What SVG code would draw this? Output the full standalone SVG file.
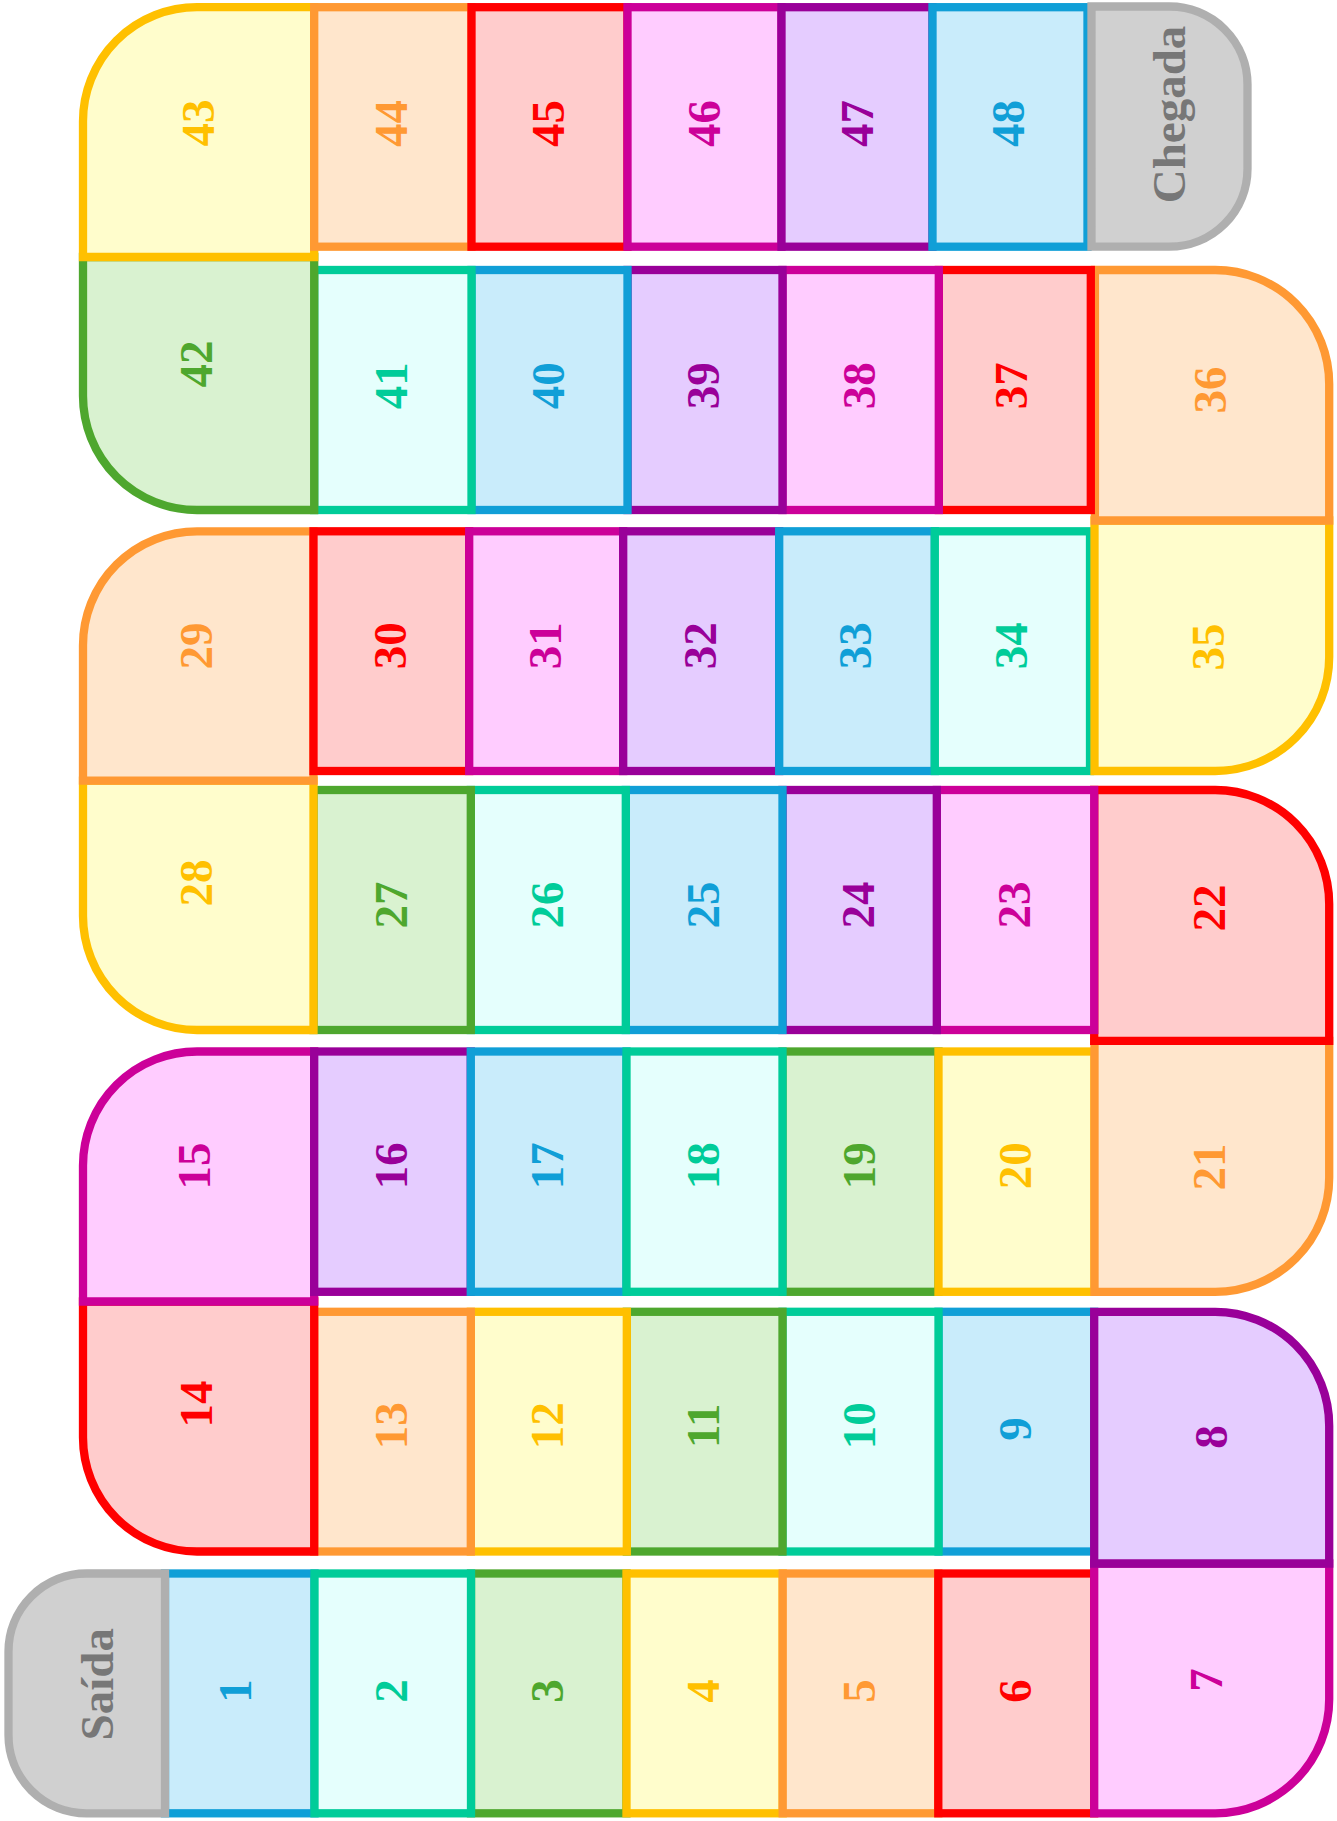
<svg xmlns="http://www.w3.org/2000/svg" width="1337" height="1821" viewBox="0 0 1337 1821">
<style>
rect, path { stroke-width: 8.3; stroke-linejoin: miter; }
text { font-family: "Liberation Serif", "Times New Roman", serif; font-weight: bold; font-size: 47px; text-anchor: middle; dominant-baseline: central; }
.bl rect, .bl path { fill: #c9ecfb; stroke: #109fd7; } .bl text { fill: #109fd7; }
.te rect, .te path { fill: #e5fffd; stroke: #00cc99; } .te text { fill: #00cc99; }
.gr rect, .gr path { fill: #d9f2d0; stroke: #4ea72e; } .gr text { fill: #4ea72e; }
.ye rect, .ye path { fill: #fffdcc; stroke: #ffc000; } .ye text { fill: #ffc000; }
.or rect, .or path { fill: #ffe6cc; stroke: #ff9933; } .or text { fill: #ff9933; }
.re rect, .re path { fill: #ffcccc; stroke: #ff0000; } .re text { fill: #ff0000; }
.ma rect, .ma path { fill: #ffccff; stroke: #cc0099; } .ma text { fill: #cc0099; }
.pu rect, .pu path { fill: #e5ccff; stroke: #990099; } .pu text { fill: #990099; }
.gy rect, .gy path { fill: #d0d0d0; stroke: #afafaf; } .gy text { fill: #777777; }
</style>
<g id="tiles">
<g id="t1" class="bl"><rect x="165" y="1573.5" width="149.5" height="239.8"/><text x="234.5" y="1691" transform="rotate(-90 234.5 1691)">1</text></g>
<g id="saida" class="gy"><path d="M86.5 1573.5 H165 V1813.3 H86.5 A78 78 0 0 1 8.5 1735.3 V1651.5 A78 78 0 0 1 86.5 1573.5 Z"/><text x="96.8" y="1684.2" transform="rotate(-90 96.8 1684.2)">Saída</text></g>
<g id="t3" class="gr"><rect x="471" y="1573.5" width="155.5" height="239.8"/><text x="546.8" y="1691" transform="rotate(-90 546.8 1691)">3</text></g>
<g id="t2" class="te"><rect x="314.5" y="1573.5" width="156.5" height="239.8"/><text x="391" y="1691" transform="rotate(-90 391 1691)">2</text></g>
<g id="t4" class="ye"><rect x="626.5" y="1573.5" width="156.2" height="239.8"/><text x="703" y="1691" transform="rotate(-90 703 1691)">4</text></g>
<g id="t5" class="or"><rect x="782.7" y="1573.5" width="155.6" height="239.8"/><text x="859" y="1691" transform="rotate(-90 859 1691)">5</text></g>
<g id="t6" class="re"><rect x="938.3" y="1573.5" width="155.9" height="239.8"/><text x="1015" y="1691" transform="rotate(-90 1015 1691)">6</text></g>
<g id="t7" class="ma"><path d="M1094.2 1563.5 H1329.2 V1699.3 A114 114 0 0 1 1215.2 1813.3 H1094.2 Z"/><text x="1206" y="1680" transform="rotate(-90 1206 1680)">7</text></g>
<g id="t9" class="bl"><rect x="938.5" y="1311.8" width="155.7" height="239.7"/><text x="1015" y="1429" transform="rotate(-90 1015 1429)">9</text></g>
<g id="t8" class="pu"><path d="M1094.2 1311.8 H1215.2 A114 114 0 0 1 1329.2 1425.8 V1563.5 H1094.2 Z"/><text x="1210.5" y="1437" transform="rotate(-90 1210.5 1437)">8</text></g>
<g id="t10" class="te"><rect x="782.5" y="1311.8" width="156" height="239.7"/><text x="859" y="1425.8" transform="rotate(-90 859 1425.8)">10</text></g>
<g id="t11" class="gr"><rect x="626.8" y="1311.8" width="155.7" height="239.7"/><text x="703.2" y="1425.8" transform="rotate(-90 703.2 1425.8)">11</text></g>
<g id="t12" class="ye"><rect x="470.8" y="1311.8" width="156" height="239.7"/><text x="547.3" y="1425.8" transform="rotate(-90 547.3 1425.8)">12</text></g>
<g id="t13" class="or"><rect x="314.2" y="1311.8" width="156.6" height="239.7"/><text x="391" y="1425.8" transform="rotate(-90 391 1425.8)">13</text></g>
<g id="t14" class="re"><path d="M83 1301.5 H314.2 V1551.5 H197 A114 114 0 0 1 83 1437.5 Z"/><text x="196" y="1404" transform="rotate(-90 196 1404)">14</text></g>
<g id="t15" class="ma"><path d="M197 1051.5 H314.2 V1301.5 H83 V1165.5 A114 114 0 0 1 197 1051.5 Z"/><text x="194" y="1166" transform="rotate(-90 194 1166)">15</text></g>
<g id="t16" class="pu"><rect x="314.2" y="1051.5" width="156.6" height="240.3"/><text x="391" y="1165.8" transform="rotate(-90 391 1165.8)">16</text></g>
<g id="t17" class="bl"><rect x="470.8" y="1051.5" width="155.7" height="240.3"/><text x="547.2" y="1165.8" transform="rotate(-90 547.2 1165.8)">17</text></g>
<g id="t19" class="gr"><rect x="782.5" y="1051.5" width="156" height="240.3"/><text x="859" y="1165.8" transform="rotate(-90 859 1165.8)">19</text></g>
<g id="t18" class="te"><rect x="626.5" y="1051.5" width="156" height="240.3"/><text x="703" y="1165.8" transform="rotate(-90 703 1165.8)">18</text></g>
<g id="t20" class="ye"><rect x="938.5" y="1051.5" width="156" height="240.3"/><text x="1015" y="1165.8" transform="rotate(-90 1015 1165.8)">20</text></g>
<g id="t21" class="or"><path d="M1094.5 1040.9 H1329.2 V1177.8 A114 114 0 0 1 1215.2 1291.8 H1094.5 Z"/><text x="1209" y="1167" transform="rotate(-90 1209 1167)">21</text></g>
<g id="t22" class="re"><path d="M1094.2 790 H1215.2 A114 114 0 0 1 1329.2 904 V1040.9 H1094.2 Z"/><text x="1209" y="908" transform="rotate(-90 1209 908)">22</text></g>
<g id="t23" class="ma"><rect x="936.8" y="790" width="157.4" height="240"/><text x="1014" y="905" transform="rotate(-90 1014 905)">23</text></g>
<g id="t24" class="pu"><rect x="782.5" y="790" width="154.3" height="240"/><text x="858.2" y="905" transform="rotate(-90 858.2 905)">24</text></g>
<g id="t25" class="bl"><rect x="625.8" y="790" width="156.7" height="240"/><text x="702.7" y="905" transform="rotate(-90 702.7 905)">25</text></g>
<g id="t26" class="te"><rect x="470.8" y="790" width="155" height="240"/><text x="546.8" y="905" transform="rotate(-90 546.8 905)">26</text></g>
<g id="t27" class="gr"><rect x="313.5" y="790" width="157.3" height="240"/><text x="390.7" y="905" transform="rotate(-90 390.7 905)">27</text></g>
<g id="t28" class="ye"><path d="M83 780.7 H313.5 V1030 H197 A114 114 0 0 1 83 916 Z"/><text x="196" y="883" transform="rotate(-90 196 883)">28</text></g>
<g id="t29" class="or"><path d="M197 531.3 H313.5 V780.7 H83 V645.3 A114 114 0 0 1 197 531.3 Z"/><text x="196" y="646" transform="rotate(-90 196 646)">29</text></g>
<g id="t30" class="re"><rect x="313.5" y="531.3" width="155.7" height="239.7"/><text x="390" y="645.8" transform="rotate(-90 390 645.8)">30</text></g>
<g id="t31" class="ma"><rect x="469.2" y="531.3" width="154" height="239.7"/><text x="545.5" y="645.8" transform="rotate(-90 545.5 645.8)">31</text></g>
<g id="t32" class="pu"><rect x="623.2" y="531.3" width="156" height="239.7"/><text x="699.7" y="645.8" transform="rotate(-90 699.7 645.8)">32</text></g>
<g id="t33" class="bl"><rect x="779.2" y="531.3" width="155.6" height="239.7"/><text x="855.5" y="645.8" transform="rotate(-90 855.5 645.8)">33</text></g>
<g id="t34" class="te"><rect x="934.8" y="531.3" width="155.2" height="239.7"/><text x="1011" y="645.8" transform="rotate(-90 1011 645.8)">34</text></g>
<g id="t35" class="ye"><path d="M1094.5 520.5 H1329.2 V657 A114 114 0 0 1 1215.2 771 H1094.5 Z"/><text x="1208" y="647" transform="rotate(-90 1208 647)">35</text></g>
<g id="t36" class="or"><path d="M1094.9 270 H1215.2 A114 114 0 0 1 1329.2 384 V520.5 H1094.9 Z"/><text x="1210" y="390" transform="rotate(-90 1210 390)">36</text></g>
<g id="t37" class="re"><rect x="938.8" y="270" width="152" height="240"/><text x="1011.5" y="385.8" transform="rotate(-90 1011.5 385.8)">37</text></g>
<g id="t38" class="ma"><rect x="782.5" y="270" width="156.3" height="240"/><text x="859.2" y="385.8" transform="rotate(-90 859.2 385.8)">38</text></g>
<g id="t39" class="pu"><rect x="627.5" y="270" width="155" height="240"/><text x="703" y="385.8" transform="rotate(-90 703 385.8)">39</text></g>
<g id="t40" class="bl"><rect x="471.5" y="270" width="156" height="240"/><text x="548.5" y="385.8" transform="rotate(-90 548.5 385.8)">40</text></g>
<g id="t41" class="te"><rect x="314.2" y="270" width="157.3" height="240"/><text x="391.4" y="385.8" transform="rotate(-90 391.4 385.8)">41</text></g>
<g id="t42" class="gr"><path d="M83 257 H314.2 V510 H197 A114 114 0 0 1 83 396 Z"/><text x="196" y="364" transform="rotate(-90 196 364)">42</text></g>
<g id="t43" class="ye"><path d="M197 7.2 H314.2 V257 H83 V121.2 A114 114 0 0 1 197 7.2 Z"/><text x="197.5" y="123" transform="rotate(-90 197.5 123)">43</text></g>
<g id="t44" class="or"><rect x="314.2" y="7.2" width="157.3" height="239.5"/><text x="391.4" y="123.5" transform="rotate(-90 391.4 123.5)">44</text></g>
<g id="t45" class="re"><rect x="471.5" y="7.2" width="156" height="239.5"/><text x="548" y="123.5" transform="rotate(-90 548 123.5)">45</text></g>
<g id="t46" class="ma"><rect x="627.5" y="7.2" width="154" height="239.5"/><text x="704" y="123.5" transform="rotate(-90 704 123.5)">46</text></g>
<g id="t47" class="pu"><rect x="781.5" y="7.2" width="151" height="239.5"/><text x="857" y="123.5" transform="rotate(-90 857 123.5)">47</text></g>
<g id="t48" class="bl"><rect x="932.5" y="7.2" width="155" height="239.5"/><text x="1008" y="123.5" transform="rotate(-90 1008 123.5)">48</text></g>
<g id="chegada" class="gy"><path d="M1091.5 6.5 H1169.5 A78 78 0 0 1 1247.5 84.5 V168.7 A78 78 0 0 1 1169.5 246.7 H1091.5 Z"/><text x="1169.2" y="114.5" transform="rotate(-90 1169.2 114.5)">Chegada</text></g>
</g>
<g id="connectors"/>
</svg>
